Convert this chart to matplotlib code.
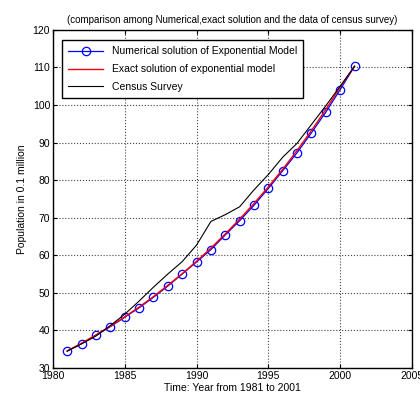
import matplotlib
matplotlib.use("Agg")
import matplotlib.pyplot as plt

plt.rcParams['font.family'] = ['Liberation Sans', 'DejaVu Sans']

years = list(range(1981, 2002))
numerical = [34.5, 36.5, 38.7, 41.0, 43.5, 46.0, 48.8, 51.8, 55.0, 58.2,
             61.5, 65.4, 69.2, 73.3, 77.8, 82.5, 87.3, 92.6, 98.1, 104.1, 110.3]
exact = [34.5, 36.6, 38.8, 41.1, 43.6, 46.2, 49.0, 52.0, 55.1, 58.4,
         61.9, 65.7, 69.6, 73.8, 78.2, 82.9, 87.9, 93.2, 98.8, 104.8, 110.3]
census = [34.5, 36.4, 38.5, 41.3, 44.3, 47.8, 51.5, 55.0, 58.3, 62.7,
          69.0, 70.8, 72.9, 77.4, 81.5, 86.1, 89.8, 94.8, 99.8, 105.0, 110.3]

xticks = [1980, 1985, 1990, 1995, 2000, 2005]
yticks = [30, 40, 50, 60, 70, 80, 90, 100, 110, 120]

fig = plt.figure(figsize=(4.2, 4.03), dpi=100)
ax = fig.add_axes([0.126, 0.087, 0.855, 0.839])

ax.plot(years, numerical, color='blue', lw=0.9, marker='o', markersize=6,
        markerfacecolor='none', markeredgecolor='blue', markeredgewidth=0.9,
        label='Numerical solution of Exponential Model')
ax.plot(years, exact, color='red', lw=1.0, label='Exact solution of exponential model')
ax.plot(years, census, color='black', lw=0.8, label='Census Survey')

ax.set_xlim(1980, 2005)
ax.set_ylim(30, 120)
ax.set_xticks(xticks)
ax.set_yticks(yticks)
ax.tick_params(direction='in', top=True, right=True, labelsize=7.5, length=3, width=0.8, pad=2)
ax.grid(True, linestyle=':', color='#444444', lw=0.8)
for s in ax.spines.values():
    s.set_linewidth(1.0)

ax.set_title('(comparison among Numerical,exact solution and the data of census survey)',
             fontsize=7, pad=5)
ax.set_xlabel('Time: Year from 1981 to 2001', fontsize=7.5, labelpad=2)
ax.set_ylabel('Population in 0.1 million', fontsize=7.5, labelpad=4)

leg = ax.legend(loc='upper left', fontsize=7.5, fancybox=False, framealpha=1,
                edgecolor='black', borderpad=0.6, handlelength=3.4,
                bbox_to_anchor=(0.01, 0.985), labelspacing=0.75)
leg.get_frame().set_linewidth(1.0)

fig.savefig('out.png', dpi=100)
